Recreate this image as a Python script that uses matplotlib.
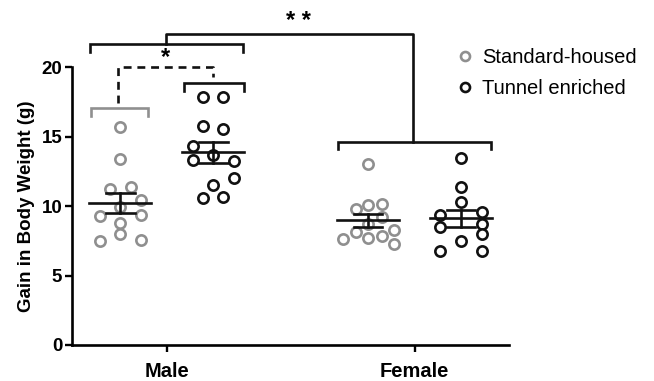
import numpy as np
import matplotlib
matplotlib.use("Agg")
import matplotlib.pyplot as plt
from matplotlib.lines import Line2D

plt.rcParams['font.family'] = ['Liberation Sans', 'DejaVu Sans']

# ---- data ----
sexes = ["Male", "Female"]
groups = ["Standard-housed", "Tunnel enriched"]

male_standard = [15.72, 13.35, 11.25, 11.37, 10.41, 9.93, 9.26, 9.33, 8.78, 8.02, 7.49, 7.59]
male_tunnel = [17.82, 17.82, 15.79, 15.55, 14.31, 13.64, 13.33, 13.23, 12.01, 11.49, 10.60, 10.65]
female_standard = [13.04, 9.81, 10.05, 10.17, 9.20, 8.13, 8.30, 7.66, 7.73, 7.82, 7.25, 8.70]
female_tunnel = [13.47, 11.37, 10.29, 9.33, 9.57, 8.49, 8.73, 7.97, 7.47, 6.77, 6.77]

# horizontal jitter (layout only)
jit_ms = [0, 0, -0.04, 0.043, 0.085, 0, -0.081, 0.085, 0, 0, -0.081, 0.085]
jit_mt = [-0.04, 0.04, -0.04, 0.04, -0.081, 0, -0.081, 0.085, 0.085, 0, -0.04, 0.04]
jit_fs = [0, -0.05, 0, 0.055, 0.055, -0.05, 0.105, -0.1, 0, 0.055, 0.105, 0]
jit_ft = [0, 0, 0, -0.085, 0.085, -0.085, 0.085, 0.085, 0, -0.085, 0.085]

yticks = [0, 5, 10, 15, 20]

GRAY = "#8f8f8f"
BLACK = "#111111"

fig = plt.figure(figsize=(6.54, 3.81), dpi=100)
ax = fig.add_axes([0.110, 0.0945, 0.668, 0.7295])

off = 0.1875
series = [
    (0 - off, male_standard, jit_ms, GRAY),
    (0 + off, male_tunnel, jit_mt, BLACK),
    (1 - off, female_standard, jit_fs, GRAY),
    (1 + off, female_tunnel, jit_ft, BLACK),
]
for xc, vals, jit, col in series:
    vals = np.array(vals)
    xs = xc + np.array(jit)
    ax.plot(xs, vals, 'o', ms=7.4, mfc='white', mec=col, mew=1.9, ls='none',
            zorder=3, clip_on=False)
for xc, vals, jit, col in series:
    vals = np.array(vals)
    m = vals.mean()
    sem = vals.std(ddof=1) / np.sqrt(len(vals))
    ax.plot([xc - 0.125, xc + 0.125], [m, m], color=BLACK, lw=1.9, zorder=4)
    ax.plot([xc, xc], [m - sem, m + sem], color=BLACK, lw=1.9, zorder=4)
    for yy in (m - sem, m + sem):
        ax.plot([xc - 0.058, xc + 0.058], [yy, yy], color=BLACK, lw=1.9, zorder=4)

ax.set_xlim(-0.382, 1.38)
ax.set_ylim(0, 20)
ax.set_xticks([0, 1])
ax.set_xticklabels(sexes, fontsize=14.5, fontweight='bold')
ax.set_yticks(yticks)
ax.set_yticklabels([str(t) for t in yticks], fontsize=13.5, fontweight='bold')
ax.set_ylabel("Gain in Body Weight (g)", fontsize=13.5, fontweight='bold', labelpad=5)
for s in ("top", "right"):
    ax.spines[s].set_visible(False)
for s in ("left", "bottom"):
    ax.spines[s].set_linewidth(1.9)
ax.tick_params(width=1.7, length=5, pad=2)
ax.tick_params(axis='x', pad=7)


def bracket(x0, x1, y, drop, color=BLACK, lw=1.9, ls='-'):
    ax.plot([x0, x0, x1, x1], [y - drop, y, y, y - drop], color=color, lw=lw,
            ls=ls, clip_on=False, solid_joinstyle='miter')

# significance annotations
bracket(-0.305, -0.074, 17.03, 0.55, color=GRAY)
bracket(0.071, 0.311, 18.86, 0.55)
ax.plot([-0.195, -0.195, 0.188, 0.188], [17.4, 20.0, 20.0, 19.3], color=BLACK,
        lw=1.9, ls=(0, (3, 2.2)), clip_on=False)
ax.text(-0.005, 19.85, "*", ha='center', va='bottom', fontsize=17, fontweight='bold')
bracket(-0.309, 0.308, 21.66, 0.6)
bracket(0.692, 1.31, 14.64, 0.55)
ax.plot([-0.003, -0.003, 0.993, 0.993], [21.66, 22.37, 22.37, 14.64], color=BLACK,
        lw=1.9, clip_on=False)
ax.text(0.53, 22.45, "* *", ha='center', va='bottom', fontsize=17, fontweight='bold')

# legend
handles = [Line2D([], [], marker='o', ls='none', ms=6.5, mfc='white', mec=GRAY, mew=1.9),
           Line2D([], [], marker='o', ls='none', ms=6.5, mfc='white', mec=BLACK, mew=1.9)]
leg = fig.legend(handles, groups, loc='upper left', bbox_to_anchor=(0.665, 0.921),
                 frameon=False, fontsize=14.5, handletextpad=0.25, labelspacing=0.6,
                 handlelength=1.2)

fig.savefig("out.png", dpi=100)
